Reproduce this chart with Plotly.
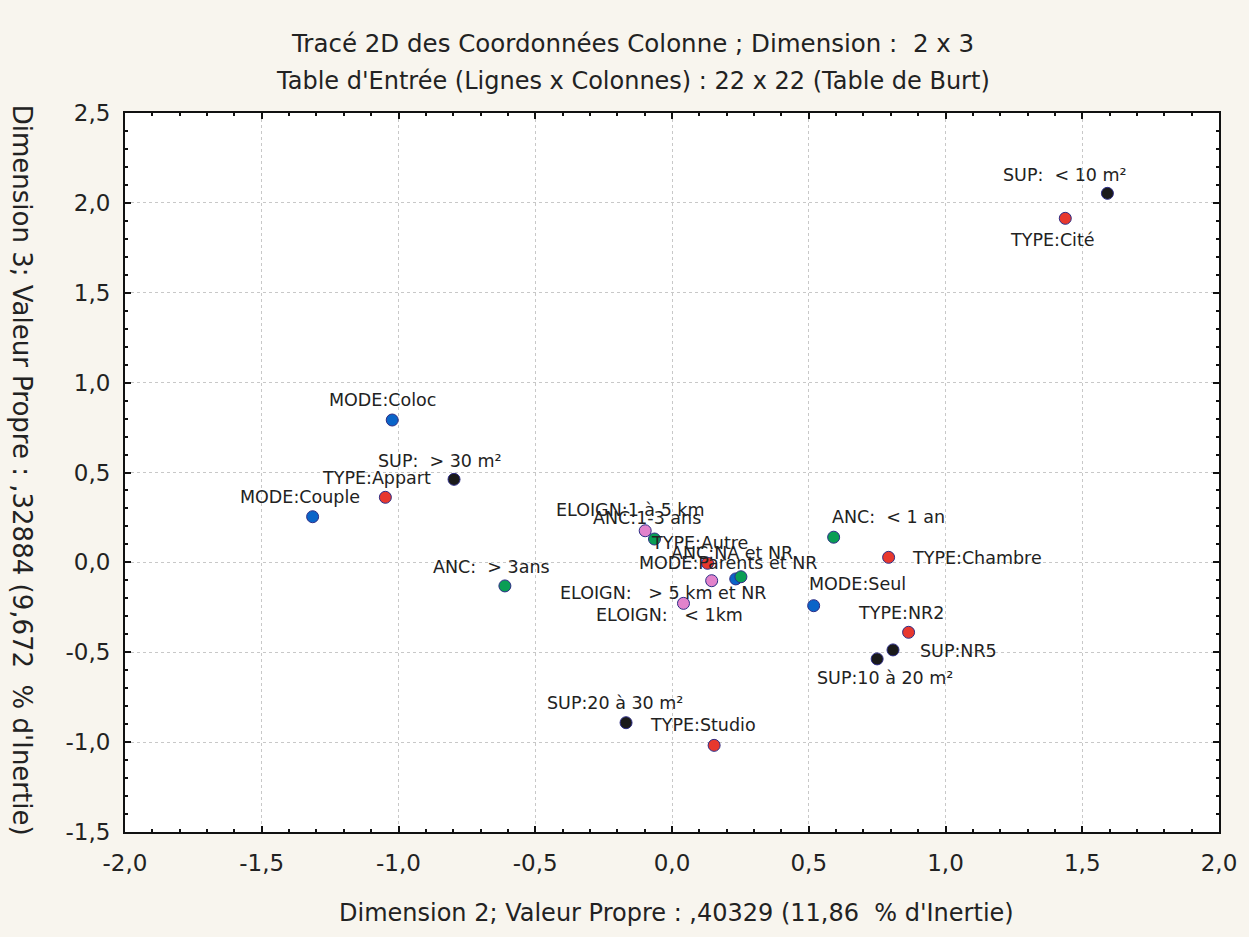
import plotly.graph_objects as go

# ---- data ----
groups = ["MODE", "TYPE", "SUP", "ANC", "ELOIGN"]

mode_labels = ["MODE:Coloc", "MODE:Couple", "MODE:Parents et NR", "MODE:Seul"]
mode_x = [-1.023, -1.314, 0.233, 0.518]
mode_y = [0.792, 0.254, -0.092, -0.241]

type_labels = ["TYPE:Appart", "TYPE:Autre", "TYPE:Chambre", "TYPE:Cité", "TYPE:NR2", "TYPE:Studio"]
type_x = [-1.048, 0.130, 0.792, 1.438, 0.865, 0.154]
type_y = [0.362, -0.005, 0.028, 1.914, -0.389, -1.018]

sup_labels = ["SUP:  < 10 m²", "SUP:10 à 20 m²", "SUP:20 à 30 m²", "SUP:  > 30 m²", "SUP:NR5"]
sup_x = [1.592, 0.750, -0.168, -0.797, 0.808]
sup_y = [2.053, -0.537, -0.892, 0.462, -0.487]

anc_labels = ["ANC:  < 1 an", "ANC:1-3 ans", "ANC:  > 3ans", "ANC:NA et NR"]
anc_x = [0.591, -0.064, -0.611, 0.252]
anc_y = [0.140, 0.130, -0.131, -0.080]

eloign_labels = ["ELOIGN:   < 1km", "ELOIGN:1 à 5 km", "ELOIGN:   > 5 km et NR"]
eloign_x = [0.042, -0.098, 0.145]
eloign_y = [-0.228, 0.176, -0.102]

tick_vals_x = [-2.0, -1.5, -1.0, -0.5, 0.0, 0.5, 1.0, 1.5, 2.0]
tick_text_x = ["-2,0", "-1,5", "-1,0", "-0,5", "0,0", "0,5", "1,0", "1,5", "2,0"]
tick_vals_y = [-1.5, -1.0, -0.5, 0.0, 0.5, 1.0, 1.5, 2.0, 2.5]
tick_text_y = ["-1,5", "-1,0", "-0,5", "0,0", "0,5", "1,0", "1,5", "2,0", "2,5"]

# ---- styling (label offsets in pixels relative to the point; anchor) ----
colors = {"MODE": "#0A64C8", "TYPE": "#E8382E", "SUP": "#1A1A1A",
          "ANC": "#0A9E55", "ELOIGN": "#E283CC"}
label_offsets = {
    "MODE:Coloc": (-10, -20, "center"), "MODE:Couple": (-13, -20, "center"),
    "MODE:Parents et NR": (-8, -16, "center"), "MODE:Seul": (-7, -22, "left"),
    "TYPE:Appart": (-9, -19, "center"), "TYPE:Autre": (-8, -20, "center"),
    "TYPE:Chambre": (21, 1, "left"), "TYPE:Cité": (-13, 22, "center"),
    "TYPE:NR2": (-8, -19, "center"), "TYPE:Studio": (-11, -20, "center"),
    "SUP:  < 10 m²": (-42, -18, "center"), "SUP:10 à 20 m²": (8, 19, "center"),
    "SUP:20 à 30 m²": (-11, -20, "center"), "SUP:  > 30 m²": (-14, -18, "center"),
    "SUP:NR5": (25, 1, "left"),
    "ANC:  < 1 an": (-4, -20, "left"), "ANC:1-3 ans": (-8, -21, "center"),
    "ANC:  > 3ans": (-13, -19, "center"), "ANC:NA et NR": (-9, -24, "center"),
    "ELOIGN:   < 1km": (-14, 12, "center"), "ELOIGN:1 à 5 km": (-15, -21, "center"),
    "ELOIGN:   > 5 km et NR": (-49, 12, "center"),
}

series = [
    ("MODE", mode_labels, mode_x, mode_y),
    ("TYPE", type_labels, type_x, type_y),
    ("SUP", sup_labels, sup_x, sup_y),
    ("ANC", anc_labels, anc_x, anc_y),
    ("ELOIGN", eloign_labels, eloign_x, eloign_y),
]

FONT = "DejaVu Sans, Arial, sans-serif"
TXT = "#222222"

fig = go.Figure()
annotations = []
for name, labels, xs, ys in series:
    fig.add_trace(go.Scatter(
        x=xs, y=ys, mode="markers", name=name, text=labels,
        marker=dict(size=12, color=colors[name],
                    line=dict(color="#2E2E86", width=1)),
        showlegend=False,
    ))
    for lab, xv, yv in zip(labels, xs, ys):
        dx, dy, anc = label_offsets[lab]
        annotations.append(dict(
            x=xv, y=yv, xref="x", yref="y", text=lab, showarrow=False,
            xanchor=anc, yanchor="middle",
            xshift=dx, yshift=-dy, font=dict(family=FONT, size=17.5, color=TXT),
        ))

annotations += [
    dict(text="Tracé 2D des Coordonnées Colonne ; Dimension :  2 x 3",
         x=0.464, y=1.096, xref="paper", yref="paper", showarrow=False,
         xanchor="center", yanchor="middle",
         font=dict(family=FONT, size=24.5, color=TXT)),
    dict(text="Table d'Entrée (Lignes x Colonnes) : 22 x 22 (Table de Burt)",
         x=0.464, y=1.0445, xref="paper", yref="paper", showarrow=False,
         xanchor="center", yanchor="middle",
         font=dict(family=FONT, size=24, color=TXT)),
    dict(text="Dimension 2; Valeur Propre : ,40329 (11,86  % d'Inertie)",
         x=0.504, y=-0.1127, xref="paper", yref="paper", showarrow=False,
         xanchor="center", yanchor="middle",
         font=dict(family=FONT, size=24, color=TXT)),
    dict(text="Dimension 3; Valeur Propre : ,32884 (9,672  % d'Inertie)",
         x=-0.0939, y=0.5035, xref="paper", yref="paper", showarrow=False,
         xanchor="center", yanchor="middle",
         textangle=90, font=dict(family=FONT, size=26, color=TXT)),
]

axis_common = dict(
    showline=True, linecolor="#111111", linewidth=2, mirror="ticks",
    ticks="inside", ticklen=6, tickwidth=2, tickcolor="#111111",
    showgrid=True, gridcolor="#C8C8C8", griddash="3px,3px", gridwidth=1,
    zeroline=False,
    tickfont=dict(family=FONT, size=23, color=TXT),
    minor=dict(ticks="inside", ticklen=3, tickwidth=2, tickcolor="#111111",
               dtick=0.1, showgrid=False),
)

fig.update_xaxes(range=[-2.0, 2.0], tickmode="array", tickvals=tick_vals_x,
                 ticktext=tick_text_x, ticklabelstandoff=9, **axis_common)
fig.update_yaxes(range=[-1.5, 2.5], tickmode="array", tickvals=tick_vals_y,
                 ticktext=tick_text_y, ticklabelstandoff=8, **axis_common)

fig.update_layout(
    width=1249, height=937,
    margin=dict(l=125, r=27, t=113, b=105),
    paper_bgcolor="#F8F5EE", plot_bgcolor="#FFFFFF",
    annotations=annotations,
    font=dict(family=FONT, color=TXT),
)

fig.write_html("out.html", config={"displayModeBar": False},
               post_script="document.body.style.margin='0px';")
